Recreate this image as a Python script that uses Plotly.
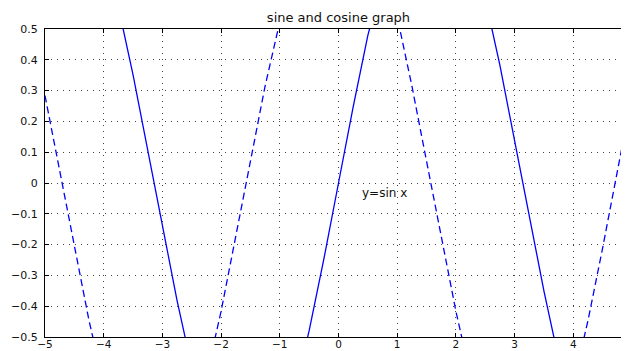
import plotly.graph_objects as go

x_vals = [-5.0, -4.75, -4.5, -4.25, -4.0, -3.75, -3.5, -3.25, -3.0, -2.75, -2.5,
          -2.25, -2.0, -1.75, -1.5, -1.25, -1.0, -0.75, -0.5, -0.25, 0.0,
          0.25, 0.5, 0.75, 1.0, 1.25, 1.5, 1.75, 2.0, 2.25, 2.5,
          2.75, 3.0, 3.25, 3.5, 3.75, 4.0, 4.25, 4.5, 4.75, 5.0]

sin_vals = [0.9589, 0.9993, 0.9775, 0.8950, 0.7568, 0.5716, 0.3508, 0.1082, -0.1411, -0.3817, -0.5985,
            -0.7781, -0.9093, -0.9840, -0.9975, -0.9490, -0.8415, -0.6816, -0.4794, -0.2474, 0.0,
            0.2474, 0.4794, 0.6816, 0.8415, 0.9490, 0.9975, 0.9840, 0.9093, 0.7781, 0.5985,
            0.3817, 0.1411, -0.1082, -0.3508, -0.5716, -0.7568, -0.8950, -0.9775, -0.9993, -0.9589]

cos_vals = [0.2837, 0.0376, -0.2108, -0.4466, -0.6536, -0.8206, -0.9365, -0.9941, -0.9900, -0.9243, -0.8011,
            -0.6282, -0.4161, -0.1782, 0.0707, 0.3153, 0.5403, 0.7317, 0.8776, 0.9689, 1.0,
            0.9689, 0.8776, 0.7317, 0.5403, 0.3153, 0.0707, -0.1782, -0.4161, -0.6282, -0.8011,
            -0.9243, -0.9900, -0.9941, -0.9365, -0.8206, -0.6536, -0.4466, -0.2108, 0.0376, 0.2837]

title_text = "sine and cosine graph"
label_text = "y=sin x"
label_pos = (0.36, -0.033)
x_ticks = [-5, -4, -3, -2, -1, 0, 1, 2, 3, 4]
y_ticks = [-0.5, -0.4, -0.3, -0.2, -0.1, 0, 0.1, 0.2, 0.3, 0.4, 0.5]

FONT = "DejaVu Sans, Liberation Sans, Arial"

fig = go.Figure()
fig.add_trace(go.Scatter(x=x_vals, y=sin_vals, mode="lines",
                         line=dict(color="#0000ff", width=1.3), showlegend=False))
fig.add_trace(go.Scatter(x=x_vals, y=cos_vals, mode="lines",
                         line=dict(color="#0000ff", width=1.3, dash="7px,4px"), showlegend=False))

fig.add_annotation(x=label_pos[0], y=label_pos[1], text=label_text, showarrow=False,
                   xanchor="left", yanchor="middle",
                   font=dict(family=FONT, size=12, color="#111"))

axis_common = dict(showgrid=True, gridcolor="#444", griddash="1px,5px", gridwidth=1,
                   showline=True, linecolor="#000", linewidth=1, mirror="ticks",
                   ticks="inside", ticklen=4, tickcolor="#000", zeroline=False,
                   automargin=False)

fig.update_xaxes(range=[-5, 5], tickvals=x_ticks, ticklabelstandoff=-3,
                 tickfont=dict(family=FONT, size=10.5, color="#111"), **axis_common)
fig.update_yaxes(range=[-0.5, 0.5], tickvals=y_ticks, ticklabelstandoff=4,
                 tickfont=dict(family=FONT, size=11, color="#111"), **axis_common)

fig.update_layout(
    width=629, height=351,
    margin=dict(l=37, r=5, t=21, b=22),
    paper_bgcolor="#fff", plot_bgcolor="#fff",
    title=dict(text=title_text, x=(330.5 / 629), xanchor="center",
               y=1 - 9 / 351, yanchor="middle", yref="container",
               font=dict(family=FONT, size=13, color="#111")),
)

fig.write_html("out.html")
